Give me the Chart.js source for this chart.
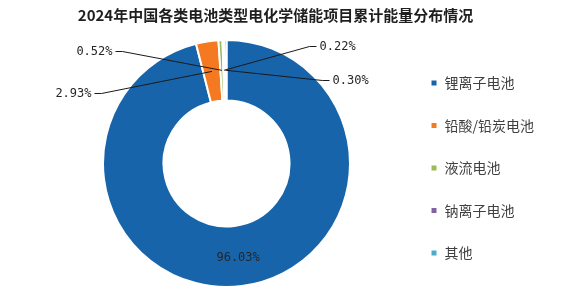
<!DOCTYPE html>
<html>
<head>
<meta charset="utf-8">
<script src="https://cdn.jsdelivr.net/npm/chart.js@4.4.1/dist/chart.umd.min.js"></script>
<style>
  html, body { margin: 0; padding: 0; background: #fff; }
  #wrap { width: 562px; height: 289px; }
</style>
</head>
<body>
<div id="wrap"><canvas id="batteryPie"></canvas></div>
<script>
const titleText = "2024年中国各类电池类型电化学储能项目累计能量分布情况";
const batteryTypes = ["锂离子电池", "铅酸/铅炭电池", "液流电池", "钠离子电池", "其他"];
const shareValues = [96.03, 2.93, 0.52, 0.22, 0.30];
const sliceColors = ["#1764ab", "#f47920", "#9bbb59", "#8064a2", "#4bacc6"];

// label placement relative to the doughnut centre (px); null = on the ring itself
const labelSpots = [
  null,
  { dx: -135, dy: -70, align: "right" },
  { dx: -114, dy: -112, align: "right" },
  { dx: 93, dy: -117, align: "left" },
  { dx: 106, dy: -83, align: "left" }
];

const leaderLabels = {
  id: "leaderLabels",
  afterLayout(chart) {
    // nudge legend down and title left, like the original
    chart.legend.top += 24;
    chart.legend.bottom += 24;
    chart.titleBlock.left -= 22;
    chart.titleBlock.right -= 22;
  },
  afterDatasetsDraw(chart) {
    const ctx = chart.ctx;
    const arcs = chart.getDatasetMeta(0).data;
    ctx.save();
    ctx.font = "12px 'DejaVu Sans Mono', monospace";
    ctx.textBaseline = "middle";
    arcs.forEach((arc, i) => {
      const p = arc.getProps(["x", "y", "startAngle", "endAngle", "innerRadius", "outerRadius"], true);
      const mid = (p.startAngle + p.endAngle) / 2;
      const r = (p.innerRadius + p.outerRadius) / 2;
      const ax = p.x + Math.cos(mid) * r;
      const ay = p.y + Math.sin(mid) * r;
      const text = shareValues[i].toFixed(2) + "%";
      const spot = labelSpots[i];
      ctx.fillStyle = "#262626";
      if (!spot) {
        ctx.textAlign = "center";
        ctx.fillText(text, ax, ay + 2);
        return;
      }
      const tx = p.x + spot.dx;
      const ty = p.y + spot.dy;
      const dir = spot.align === "right" ? 1 : -1;
      const sx = tx + dir * 3;
      ctx.strokeStyle = "#1a1a1a";
      ctx.lineWidth = 1;
      ctx.beginPath();
      ctx.moveTo(sx, ty);
      ctx.lineTo(sx + dir * 7, ty);
      ctx.lineTo(ax, ay);
      ctx.stroke();
      ctx.textAlign = spot.align;
      ctx.fillText(text, tx, ty);
    });
    ctx.restore();
  }
};

new Chart(document.getElementById("batteryPie"), {
  type: "doughnut",
  data: {
    labels: batteryTypes,
    datasets: [{
      data: shareValues,
      backgroundColor: sliceColors,
      borderColor: "#ffffff",
      borderWidth: 2
    }]
  },
  options: {
    responsive: true,
    maintainAspectRatio: false,
    animation: false,
    cutout: "51%",
    layout: {
      padding: { left: 51, right: 18, top: 0, bottom: 1 }
    },
    plugins: {
      title: {
        display: true,
        text: titleText,
        color: "#1f1f1f",
        font: { family: "'Noto Sans CJK SC'", size: 15, weight: "bold" },
        padding: { top: 6, bottom: 15 }
      },
      legend: {
        position: "right",
        labels: {
          boxWidth: 7,
          boxHeight: 7,
          padding: 28.5,
          color: "#404040",
          font: { family: "'Noto Sans CJK SC'", size: 14 }
        }
      },
      tooltip: { enabled: false }
    }
  },
  plugins: [leaderLabels]
});
</script>
</body>
</html>
